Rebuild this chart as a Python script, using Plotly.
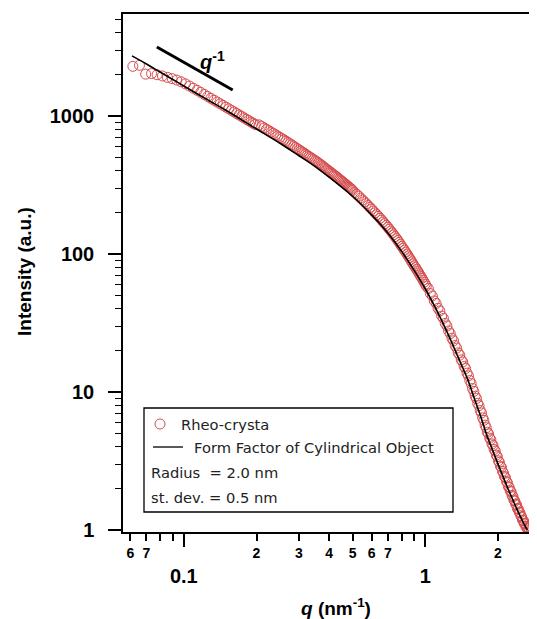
import plotly.graph_objects as go

# ---------------- data ----------------
q_data = [
    0.0615, 0.0655, 0.0695, 0.0735, 0.0775, 0.0815, 0.0855, 0.0895, 0.0935, 0.0975,
    0.1015, 0.1055, 0.1095, 0.1135, 0.1175, 0.1215, 0.1255, 0.1295, 0.1335, 0.1375,
    0.1415, 0.1455, 0.1495, 0.1535, 0.1575, 0.1615, 0.1655, 0.1695, 0.1735, 0.1775,
    0.1815, 0.1855, 0.1895, 0.1935, 0.1975,
    0.205, 0.21, 0.215, 0.22, 0.225, 0.23, 0.235, 0.24, 0.245, 0.25,
    0.255, 0.26, 0.265, 0.27, 0.275, 0.28, 0.285, 0.29, 0.295, 0.30,
    0.305, 0.31, 0.315, 0.32, 0.325, 0.33, 0.335, 0.34, 0.345, 0.35,
    0.355, 0.36, 0.365, 0.37, 0.375, 0.38, 0.385, 0.39, 0.395, 0.40,
    0.405, 0.41, 0.415, 0.42, 0.425, 0.43, 0.435, 0.44, 0.445, 0.45,
    0.455, 0.46, 0.465, 0.47, 0.475, 0.48, 0.485, 0.49, 0.495, 0.50,
    0.51, 0.52, 0.53, 0.54, 0.55, 0.56, 0.57, 0.58, 0.59, 0.60,
    0.61, 0.62, 0.63, 0.64, 0.65, 0.66, 0.67, 0.68, 0.69, 0.70,
    0.71, 0.72, 0.73, 0.74, 0.75, 0.76, 0.77, 0.78, 0.79, 0.80,
    0.81, 0.82, 0.83, 0.84, 0.85, 0.86, 0.87, 0.88, 0.89, 0.90,
    0.91, 0.92, 0.93, 0.94, 0.95, 0.96, 0.97, 0.98, 0.99, 1.00,
    1.01, 1.03, 1.05, 1.07, 1.09, 1.11, 1.13, 1.15, 1.17, 1.19,
    1.21, 1.23, 1.25, 1.27, 1.29, 1.31, 1.33, 1.35, 1.37, 1.39,
    1.41, 1.43, 1.45, 1.47, 1.49, 1.51, 1.53, 1.55, 1.57, 1.59,
    1.61, 1.63, 1.65, 1.67, 1.69, 1.71, 1.73, 1.75, 1.77, 1.79,
    1.81, 1.83, 1.85, 1.87, 1.89, 1.91, 1.93, 1.95, 1.97, 1.99,
    2.01, 2.03, 2.05, 2.07, 2.09, 2.11, 2.13, 2.15, 2.17, 2.19,
    2.21, 2.23, 2.25, 2.27, 2.29, 2.31, 2.33, 2.35, 2.37, 2.39,
    2.41, 2.43, 2.45, 2.47, 2.49, 2.51, 2.53, 2.55, 2.57, 2.59,
    2.61, 2.63, 2.65, 2.67, 2.69, 2.71, 2.73,
]
I_data = [
    2290, 2330, 2010, 2030, 1990, 1950, 1905, 1865, 1820, 1770,
    1710, 1648, 1590, 1535, 1483, 1432, 1386, 1342, 1301, 1262,
    1226, 1192, 1159, 1128, 1098, 1070, 1043, 1018, 994, 970,
    948, 927, 906, 887, 868,
    862, 840, 820, 801, 783, 765, 748, 731, 715, 700,
    685, 671, 657, 643, 630, 617, 604, 592, 580, 569,
    558, 548, 538, 528, 518, 509, 500, 491, 483, 475,
    467, 459, 451, 443, 435, 427, 420, 412, 405, 398,
    392, 385, 379, 373, 367, 361, 355, 349, 344, 338,
    333, 328, 323, 318, 313, 308, 304, 299, 295, 290,
    279.4, 270.8, 262.5, 254.4, 246.5, 238.9, 231.6, 224.5, 217.6, 211.2,
    204.9, 198.9, 192.9, 187.2, 181.5, 176.2, 170.9, 165.9, 160.9, 156.1,
    151.4, 146.7, 142.2, 137.8, 133.6, 129.3, 125.3, 121.3, 117.2, 113.4,
    109.9, 106.5, 103.1, 99.9, 96.7, 93.7, 90.7, 87.7, 84.9, 82.1,
    79.8, 77.4, 75.2, 73.0, 70.7, 68.6, 66.6, 64.5, 62.5, 60.5,
    58.6, 56.2, 51.7, 49.6, 45.7, 43.8, 40.4, 38.7, 35.5, 34.1,
    31.4, 30.1, 27.7, 26.5, 24.5, 23.5, 21.7, 20.8, 19.2, 18.5,
    17.1, 16.5, 15.3, 14.8, 13.7, 13.1, 12.1, 11.5, 10.6, 10.1,
    9.33, 8.97, 8.28, 7.96, 7.34, 7.05, 6.50, 6.23, 5.75, 5.51,
    5.11, 4.97, 4.63, 4.51, 4.20, 4.09, 3.83, 3.73, 3.49, 3.40,
    3.17, 3.09, 2.90, 2.84, 2.66, 2.58, 2.44, 2.39, 2.25, 2.20,
    2.06, 2.03, 1.92, 1.89, 1.78, 1.74, 1.65, 1.62, 1.54, 1.52,
    1.43, 1.42, 1.35, 1.33, 1.27, 1.24, 1.18, 1.17, 1.12, 1.11,
    1.06, 1.06, 1.02, 1.0, 1.03, 1.06, 1.1,
]

q_fit = [0.061, 0.07, 0.08, 0.09, 0.1, 0.12, 0.15, 0.2, 0.25, 0.3, 0.35, 0.4, 0.5,
         0.6, 0.7, 0.8, 0.9, 1.0, 1.1, 1.2, 1.3, 1.4, 1.5, 1.6, 1.7, 1.8, 1.9,
         2.0, 2.1, 2.2, 2.3, 2.4, 2.5, 2.6, 2.65]
I_fit = [2725, 2380, 2075, 1840, 1650, 1370, 1095, 805, 635, 515, 430, 360, 262,
         192, 142, 104, 76, 56, 41, 30, 22, 16.3, 12.3, 8.9, 6.6, 4.85, 3.8,
         3.02, 2.44, 2.0, 1.67, 1.41, 1.21, 1.06, 1.0]

slope_q = [0.0773, 0.1594]
slope_I = [3162, 1542]

x_label_vals = [0.06, 0.07, 0.2, 0.3, 0.4, 0.5, 0.6, 0.7, 2, 3]
x_label_text = ["6", "7", "2", "3", "4", "5", "6", "7", "2", "3"]
x_unlabeled_vals = [0.08, 0.09, 0.8, 0.9]
x_major_vals = [0.1, 1]
x_major_text = ["0.1", "1"]
y_major_vals = [1, 10, 100, 1000]
y_major_text = ["1", "10", "100", "1000"]

legend_rows = ["Rheo-crysta", "Form Factor of Cylindrical Object",
               "Radius  = 2.0 nm", "st. dev. = 0.5 nm"]

# ---------------- layout geometry (page has an 8px body margin) ----------------
OFF = 8
W, H = 537 - OFF, 619 - OFF
L, R, T, B = 123 - OFF, 0, 14 - OFF, 619 - 532
PW, PH = W - L - R, H - T - B


def px(x):  # page pixel -> paper
    return (x - OFF - L) / PW


def py(y):
    return (H - B - (y - OFF)) / PH


XR = [-1.252, 0.463]
YR = [-0.0145, 3.739]

y_minor_vals = [m * d for d in (1, 10, 100) for m in range(2, 10)] + [2000, 3000, 4000, 5000]

RED = "rgb(214,76,76)"
BOLD = "Liberation Sans, Arial, sans-serif"
LEG = "DejaVu Sans, Verdana, sans-serif"

fig = go.Figure()
fig.add_trace(go.Scatter(
    x=q_data, y=I_data, mode="markers",
    marker=dict(symbol="circle-open", size=10, color=RED, line=dict(width=1, color=RED)),
    showlegend=False,
))
fig.add_trace(go.Scatter(
    x=q_fit, y=I_fit, mode="lines", line=dict(color="black", width=1.6, shape="spline"),
    showlegend=False,
))
fig.add_trace(go.Scatter(
    x=slope_q, y=slope_I, mode="lines", line=dict(color="black", width=3),
    showlegend=False, xaxis="x2",
))

fig.update_layout(
    xaxis=dict(
        type="log", range=XR,
        showline=True, linecolor="black", linewidth=1.5, mirror=True,
        showgrid=False, zeroline=False,
        tickmode="array", tickvals=x_label_vals, ticktext=x_label_text,
        ticks="outside", ticklen=7, tickwidth=1.5, tickcolor="black",
        tickfont=dict(family=BOLD, size=14, color="black", weight="bold"),
        minor=dict(tickmode="array", tickvals=x_unlabeled_vals, ticks="outside",
                   ticklen=7, tickwidth=1.5, tickcolor="black", showgrid=False),
    ),
    xaxis2=dict(
        type="log", range=XR, overlaying="x", anchor="y", side="bottom",
        showline=False, showgrid=False, zeroline=False,
        tickmode="array", tickvals=x_major_vals, ticktext=x_major_text,
        ticks="outside", ticklen=14, tickwidth=1.5, tickcolor="black",
        ticklabelstandoff=12,
        tickfont=dict(family=BOLD, size=20, color="black", weight="bold"),
    ),
    yaxis=dict(
        type="log", range=YR,
        showline=True, linecolor="black", linewidth=1.5,
        showgrid=False, zeroline=False,
        tickmode="array", tickvals=y_major_vals, ticktext=y_major_text,
        ticks="outside", ticklen=13, tickwidth=1.5, tickcolor="black",
        ticklabelstandoff=10,
        tickfont=dict(family=BOLD, size=20, color="black", weight="bold"),
        minor=dict(tickmode="array", tickvals=y_minor_vals, ticks="outside",
                   ticklen=6, tickwidth=1.2, tickcolor="black", showgrid=False),
    ),
)

annotations = [
    dict(x=px(336), y=py(607), xref="paper", yref="paper",
         text="<i>q</i> (nm<sup>-1</sup>)", showarrow=False,
         yanchor="middle", xanchor="center",
         font=dict(family=BOLD, size=19, color="black", weight="bold")),
    dict(x=px(24), y=py(272), xref="paper", yref="paper",
         text="Intensity (a.u.)", showarrow=False, textangle=-90,
         yanchor="middle", xanchor="center",
         font=dict(family=BOLD, size=19, color="black", weight="bold")),
    dict(x=px(212), y=py(60), xref="paper", yref="paper",
         text="<i>q</i><sup>-1</sup>", showarrow=False,
         yanchor="middle", xanchor="center",
         font=dict(family=BOLD, size=20, color="black", weight="bold")),
]

leg_pos = [(179, 424), (192, 447), (149, 472), (149, 497)]
for (lx, ly), t in zip(leg_pos, legend_rows):
    annotations.append(dict(x=px(lx), y=py(ly), xref="paper", yref="paper", text=t,
                            showarrow=False, xanchor="left", yanchor="middle",
                            font=dict(family=LEG, size=14.7, color="#222")))

shapes = [
    dict(type="rect", xref="paper", yref="paper", x0=px(144), x1=px(453),
         y0=py(512), y1=py(408), line=dict(color="black", width=1.3),
         fillcolor="white", layer="above"),
    dict(type="circle", xref="paper", yref="paper", x0=px(155), x1=px(165),
         y0=py(429), y1=py(419), line=dict(color=RED, width=1), layer="above"),
    dict(type="line", xref="paper", yref="paper", x0=px(153), x1=px(183),
         y0=py(447), y1=py(447), line=dict(color="black", width=1.3), layer="above"),
]

fig.update_layout(
    width=W, height=H, margin=dict(l=L, r=R, t=T, b=B, autoexpand=False),
    paper_bgcolor="white", plot_bgcolor="white",
    annotations=annotations, shapes=shapes, showlegend=False,
)

fig.write_html("out.html", config={"displayModeBar": False})
